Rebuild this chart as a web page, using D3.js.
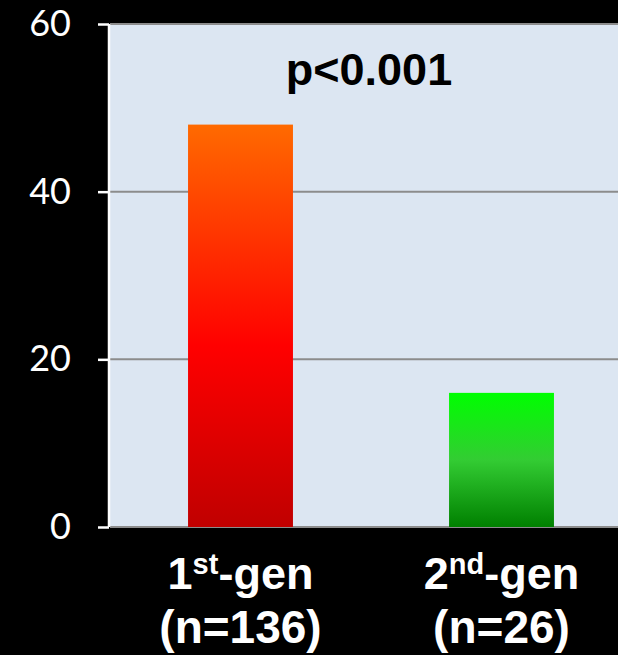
<!DOCTYPE html>
<html>
<head>
<meta charset="utf-8">
<script src="https://cdn.jsdelivr.net/npm/d3@7"></script>
<style>
  html, body { margin: 0; padding: 0; background: #000; }
  svg { display: block; }
</style>
</head>
<body>
<svg id="chart" width="618" height="655"></svg>
<script>
// Chart data
const categories = ["1st-gen", "2nd-gen"];
const labelNumbers = ["1", "2"];
const labelOrdinals = ["st", "nd"];
const labelRest = ["-gen", "-gen"];
const counts = ["(n=136)", "(n=26)"];
const values = [48, 16];
const yTicks = [0, 20, 40, 60];
const annotation = "p<0.001";

(function draw() {
  const svg = d3.select("#chart");
  const W = 618, H = 655;
  const mLeft = 110, mRight = 632, mTop = 24, mBottom = 527;

  svg.append("rect").attr("width", W).attr("height", H).attr("fill", "#000");

  const x = d3.scaleBand().domain(categories).range([mLeft, mRight])
    .paddingInner(0.598).paddingOuter(0.299);
  const y = d3.scaleLinear().domain([0, 60]).range([mBottom, mTop]);

  // vertical gradients for the two bars
  const defs = svg.append("defs");
  const gradStops = [
    [["0%", "#ff6a00"], ["55%", "#ff0000"], ["100%", "#c00000"]],
    [["0%", "#00ff00"], ["50%", "#33cc33"], ["100%", "#008000"]]
  ];
  gradStops.forEach((stops, i) => {
    const g = defs.append("linearGradient").attr("id", "grad" + i)
      .attr("x1", 0).attr("y1", 0).attr("x2", 0).attr("y2", 1);
    stops.forEach(s => g.append("stop").attr("offset", s[0]).attr("stop-color", s[1]));
  });

  // plot background
  svg.append("rect").attr("x", mLeft).attr("y", mTop)
    .attr("width", W - mLeft).attr("height", mBottom - mTop).attr("fill", "#dce6f2");

  // gridlines
  svg.append("g").selectAll("line").data(yTicks).join("line")
    .attr("x1", mLeft).attr("x2", W)
    .attr("y1", d => y(d)).attr("y2", d => y(d))
    .attr("stroke", "#8c8c8c").attr("stroke-width", 2);

  // bars
  svg.append("g").selectAll("rect").data(values).join("rect")
    .attr("x", (d, i) => x(categories[i]))
    .attr("width", x.bandwidth())
    .attr("y", d => y(d))
    .attr("height", d => y(0) - y(d))
    .attr("fill", (d, i) => `url(#grad${i})`);

  // y axis
  const yAxis = svg.append("g").attr("transform", `translate(${mLeft - 1},0)`)
    .call(d3.axisLeft(y).tickValues(yTicks).tickSize(11).tickPadding(27).tickFormat(d3.format("d")));
  yAxis.select(".domain").attr("stroke", "#fff").attr("stroke-width", 2.5)
    .attr("d", `M0,${mTop}V${mBottom}`);
  yAxis.selectAll(".tick line").attr("stroke", "#fff").attr("stroke-width", 2.5);
  yAxis.selectAll(".tick text").attr("fill", "#fff")
    .attr("font-family", "Lato, 'Open Sans', sans-serif")
    .attr("font-size", 36);

  // category labels with superscript ordinals
  const lab = svg.append("g").attr("font-family", "'Liberation Sans', Arial, sans-serif")
    .attr("font-weight", "bold").attr("fill", "#fff").attr("text-anchor", "middle");
  categories.forEach((c, i) => {
    const cx = x(c) + x.bandwidth() / 2;
    const t = lab.append("text").attr("x", cx).attr("y", 589).attr("font-size", 45);
    t.append("tspan").text(labelNumbers[i]);
    t.append("tspan").attr("font-size", 29).attr("dy", -15).text(labelOrdinals[i]);
    t.append("tspan").attr("dy", 15).text(labelRest[i]);
    lab.append("text").attr("x", cx).attr("y", 643).attr("font-size", 46).text(counts[i]);
  });

  // significance annotation
  svg.append("text").attr("x", 369).attr("y", 85)
    .attr("text-anchor", "middle")
    .attr("font-family", "'Liberation Sans', Arial, sans-serif")
    .attr("font-weight", "bold").attr("font-size", 45).attr("fill", "#000")
    .text(annotation);
})();
</script>
</body>
</html>
